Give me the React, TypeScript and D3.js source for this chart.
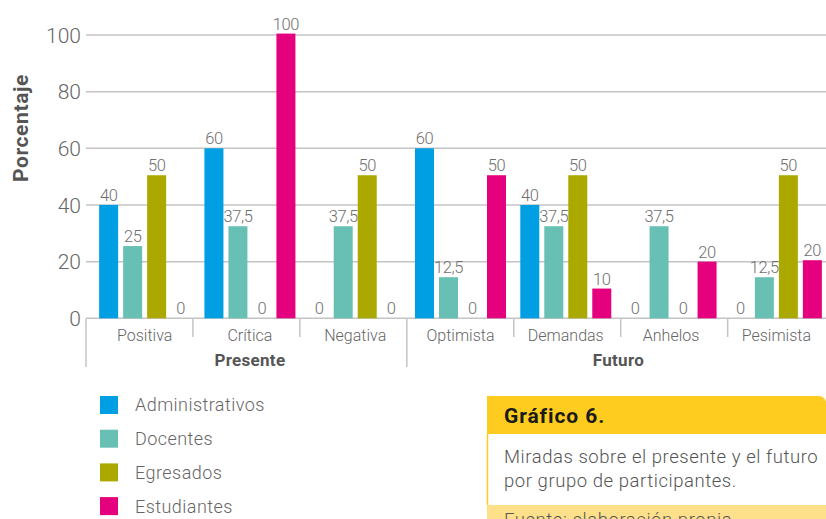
import React from "react";
import * as d3 from "d3";

const width = 826,
  height = 519;

const categories = ["Positiva", "Crítica", "Negativa", "Optimista", "Demandas", "Anhelos", "Pesimista"];
const groupNames = ["Presente", "Futuro"];
const groupSizes = [3, 4];
const seriesNames = ["Administrativos", "Docentes", "Egresados", "Estudiantes"];
const colors = ["#009fe3", "#68c0b5", "#aba800", "#e5007d"];

// bar heights as drawn in the picture
const administrativos = [40, 60, 0, 60, 40, 0, 0];
const docentes = [25.5, 32.5, 32.5, 14.5, 32.5, 32.5, 14.5];
const egresados = [50.5, 0, 50.5, 0, 50.5, 0, 50.5];
const estudiantes = [0, 100.5, 0, 50.5, 10.5, 20, 20.5];

// printed labels
const administrativosLabels = ["40", "60", "0", "60", "40", "0", "0"];
const docentesLabels = ["25", "37,5", "37,5", "12,5", "37,5", "37,5", "12,5"];
const egresadosLabels = ["50", "0", "50", "0", "50", "0", "50"];
const estudiantesLabels = ["0", "100", "0", "50", "10", "20", "20"];

const yTicks = [0, 20, 40, 60, 80, 100];

const series = [administrativos, docentes, egresados, estudiantes];
const seriesLabels = [administrativosLabels, docentesLabels, egresadosLabels, estudiantesLabels];

const font = "Roboto, sans-serif";

const App = () => {
  const plotLeft = 86;
  // bar groups and the axis separators are spaced a little differently in the original
  const x0 = d3.scaleBand().domain(categories).range([92, 829]);
  const xAxis = d3.scaleBand().domain(categories).range([plotLeft, 834.6]);
  const x1 = d3
    .scaleBand()
    .domain(seriesNames)
    .range([0, 91])
    .paddingInner(5 / 24);
  const groupOffset = (x0.bandwidth() - 91) / 2;
  const y = d3.scaleLinear().domain([0, 100]).range([318.3, 35]);

  let start = 0;
  const groups = groupNames.map((name, i) => {
    const from = start;
    const to = start + groupSizes[i] - 1;
    start += groupSizes[i];
    return { name, from, to };
  });

  return (
    <svg
      width={width}
      height={height}
      style={{ position: "absolute", left: 0, top: 0, background: "#fff" }}
    >
      {/* grid */}
      <g>
        {yTicks.map((t) => (
          <g key={t}>
            <line x1={plotLeft} x2={width} y1={y(t)} y2={y(t)} stroke="#c4c4c4" strokeWidth={1.5} />
            <text
              x={81}
              y={y(t)}
              dy="0.36em"
              textAnchor="end"
              fontFamily={font}
              fontWeight={300}
              fontSize={21}
              fill="#666"
            >
              {t}
            </text>
          </g>
        ))}
      </g>
      <text
        transform={`translate(28,128) rotate(-90)`}
        textAnchor="middle"
        fontFamily={font}
        fontWeight={700}
        fontSize={21}
        letterSpacing={0.6}
        fill="#555"
      >
        Porcentaje
      </text>

      {/* bars */}
      {categories.map((c, ci) => (
        <g key={c} transform={`translate(${x0(c)! + groupOffset},0)`}>
          {seriesNames.map((s, si) => {
            const v = series[si][ci];
            const bx = x1(s)!;
            return (
              <g key={s}>
                {v > 0 && (
                  <rect x={bx} y={y(v)} width={x1.bandwidth()} height={y(0) - y(v)} fill={colors[si]} />
                )}
                <text
                  x={bx + x1.bandwidth() / 2}
                  y={y(v) - 4}
                  textAnchor="middle"
                  fontFamily={font}
                  fontWeight={300}
                  fontSize={16.5}
                  letterSpacing={-0.4}
                  fill="#6f6f6f"
                >
                  {seriesLabels[si][ci]}
                </text>
              </g>
            );
          })}
        </g>
      ))}

      {/* category axis */}
      <g>
        {categories.map((c, ci) => {
          const isGroupStart = groups.some((g) => g.from === ci);
          const sx = xAxis(c)!;
          return (
            <g key={c}>
              <line
                x1={sx}
                x2={sx}
                y1={y(0)}
                y2={isGroupStart ? 367 : 337}
                stroke="#c4c4c4"
                strokeWidth={1.5}
              />
              <text
                x={x0(c)! + x0.bandwidth() / 2}
                y={341}
                textAnchor="middle"
                fontFamily={font}
                fontWeight={300}
                fontSize={16}
                fill="#666"
              >
                {c}
              </text>
            </g>
          );
        })}
        {groups.map((g) => (
          <text
            key={g.name}
            x={(x0(categories[g.from])! + x0(categories[g.to])! + x0.bandwidth()) / 2}
            y={366}
            textAnchor="middle"
            fontFamily={font}
            fontWeight={700}
            fontSize={17}
            letterSpacing={0.3}
            fill="#555"
          >
            {g.name}
          </text>
        ))}
      </g>

      {/* legend */}
      <g>
        {seriesNames.map((s, i) => (
          <g key={s} transform={`translate(100,${396 + i * 33.7})`}>
            <rect width={18} height={18} fill={colors[i]} />
            <text
              x={35}
              y={9}
              dy="0.36em"
              fontFamily={font}
              fontWeight={300}
              fontSize={18}
              letterSpacing={0.45}
              fill="#666"
            >
              {s}
            </text>
          </g>
        ))}
      </g>

      {/* caption box */}
      <g>
        <rect x={487} y={505} width={340} height={20} fill="#ffe08a" />
        <path d={`M487,434 V396 H818 Q826,396 826,404 V434 Z`} fill="#fecc1e" />
        <line x1={487.5} x2={487.5} y1={434} y2={505} stroke="#fecc1e" strokeWidth={1.5} />
        <text x={504} y={423} fontFamily={font} fontWeight={700} fontSize={21} letterSpacing={0.9} fill="#1a1a1a">
          Gráfico 6.
        </text>
        <text x={504} y={463} fontFamily={font} fontWeight={300} fontSize={18.5} letterSpacing={0.55} fill="#555">
          Miradas sobre el presente y el futuro
        </text>
        <text x={504} y={487} fontFamily={font} fontWeight={300} fontSize={18.5} letterSpacing={0.55} fill="#555">
          por grupo de participantes.
        </text>
        <text x={504} y={526} fontFamily={font} fontWeight={300} fontSize={18.5} letterSpacing={0.55} fill="#555">
          Fuente: elaboración propia
        </text>
      </g>
    </svg>
  );
};

export default App;
